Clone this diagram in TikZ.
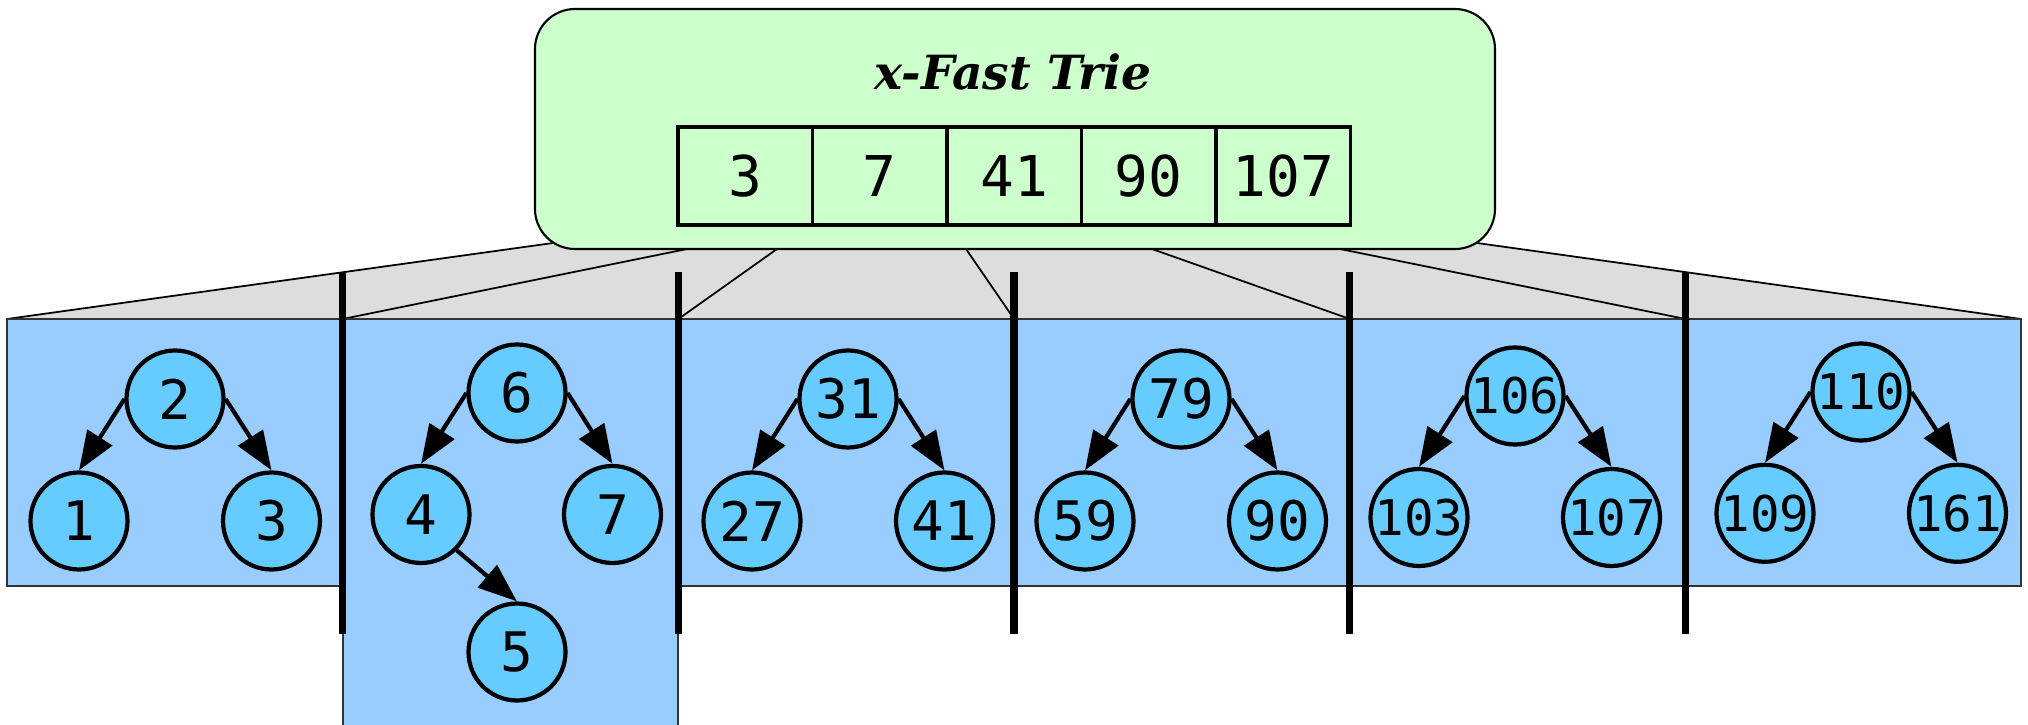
\documentclass[tikz,border=0pt]{standalone}
\usepackage{fontspec}
\usepackage{tikz}
\usetikzlibrary{arrows.meta,positioning,calc}

\newfontfamily\keyfont{DejaVu Sans Mono}
\newfontfamily\titlefont{DejaVu Serif}

\definecolor{trieGreen}{HTML}{CCFFCC}
\definecolor{bucketBlue}{HTML}{99CCFF}
\definecolor{keyBlue}{HTML}{66CCFF}
\definecolor{fanGray}{HTML}{DDDDDD}

\tikzset{
  keynode/.style={circle, draw, line width=1.2pt, fill=keyBlue, minimum size=9.7mm,
    inner sep=0pt, font=\keyfont\fontsize{15.5}{15.5}\selectfont},
  longkey/.style={keynode, font=\keyfont\fontsize{14}{14}\selectfont},
  treelink/.style={-{Triangle[length=3.9mm,width=2.9mm]}, line width=1.2pt},
  slot/.style={draw, line width=1pt, minimum width=13.45mm, minimum height=9.8mm,
    inner sep=0pt, font=\keyfont\fontsize{16}{16}\selectfont},
  bucket/.style={fill=bucketBlue, draw=black!80, line width=0.6pt},
  splitter/.style={line width=2.1pt},
}

\begin{document}
\begin{tikzpicture}
  \clip (0,0) rectangle (20.28,7.24);

  % fan from the trie down to the buckets
  \fill[fanGray] (0.07,4.05) -- (5.53,4.81) -- (14.77,4.81) -- (20.21,4.05) -- cycle;
  \draw[line width=0.5pt] (0.07,4.05) -- (5.53,4.81);
  \draw[line width=0.5pt] (20.21,4.05) -- (14.77,4.81);
  \foreach \i in {1,...,5}
    \coordinate (split\i) at ({0.07+\i*3.357},4.05);
  \foreach \top [count=\i] in {6.87,7.77,9.66,11.52,13.40}
    \draw[line width=0.5pt] (\top,4.75) -- (split\i);

  % the x-fast trie itself
  \draw[fill=trieGreen, rounded corners=4mm, line width=0.6pt] (5.35,4.75) rectangle (14.95,7.15);
  \node[anchor=base, font=\titlefont\bfseries\itshape\fontsize{13.4}{13.4}\selectfont] (title) at (10.13,6.34) {x-Fast Trie};
  \foreach \v [count=\i] in {3,7,41,90,107}
    \node[slot] (cell\i) at ({6.78+0.6725+(\i-1)*1.345},5.48) {\v};

  % buckets
  \foreach \k in {0,2,3,4,5}
    \draw[bucket] ({0.07+\k*3.357},4.05) rectangle ({0.07+(\k+1)*3.357},1.383);
  \draw[bucket] (3.427,4.05) rectangle (6.784,-0.5);
  \foreach \i in {1,...,5}
    \draw[splitter] ($(split\i)+(0,0.473)$) -- ($(split\i)-(0,3.145)$);

  % balanced trees, one per bucket
  \foreach \x/\y/\yy/\r/\a/\b/\st in {1.75/3.25/2.03/2/1/3/keynode, 8.48/3.25/2.03/31/27/41/keynode,
      11.81/3.25/2.03/79/59/90/keynode, 15.15/3.28/2.065/106/103/107/longkey,
      18.61/3.32/2.107/110/109/161/longkey} {
    \node[\st] (k\r) at (\x,\y) {\r};
    \node[\st] (k\a) at (\x-0.96,\yy) {\a};
    \node[\st] (k\b) at (\x+0.965,\yy) {\b};
    \draw[treelink] (k\r.west) -- (k\a.north);
    \draw[treelink] (k\r.east) -- (k\b.north);
  }

  \node[keynode] (k6) at (5.17,3.31) {6};
  \node[keynode] (k4) at (4.21,2.095) {4};
  \node[keynode] (k7) at (6.125,2.095) {7};
  \node[keynode] (k5) at (5.17,0.72) {5};
  \draw[treelink] (k6.west) -- (k4.north);
  \draw[treelink] (k6.east) -- (k7.north);
  \draw[treelink] (k4.south east) -- (k5.north);
\end{tikzpicture}
\end{document}
